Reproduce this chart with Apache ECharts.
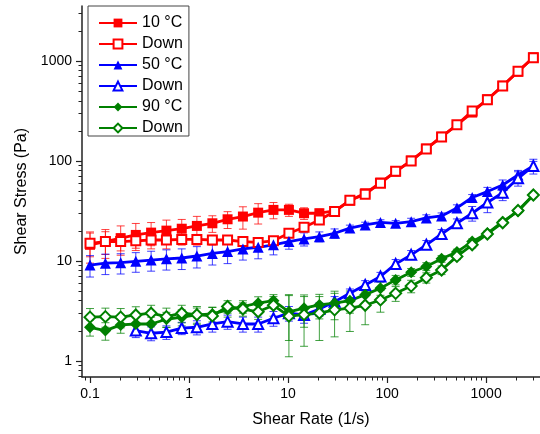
<!DOCTYPE html>
<html>
<head>
<meta charset="utf-8">
<script src="https://cdn.jsdelivr.net/npm/echarts@6/dist/echarts.min.js"></script>
<style>html,body{margin:0;padding:0;background:#fff}#c{width:540px;height:434px}</style>
</head>
<body>
<div id="c"></div>
<script>
// Shear rate (1/s)
const xRate = [0.1,0.143,0.204,0.29,0.414,0.591,0.844,1.2,1.72,2.45,3.5,4.99,7.12,10.2,14.5,20.7,29.5,42.1,60.1,85.7,122,175,249,355,507,723,1030,1470,2100,3000];
// Shear stress (Pa)
const red10 = [14.5,15.6,16.9,18.2,19.2,20.1,21.0,22.4,23.8,26.1,27.8,30.4,32.4,32.4,30.0,30.0,31.6,40.1,47.5,60.7,78.2,101,133,175,229,305,414,566,782,1088];
const red10Err = [5,5,5.5,5.5,5,5.5,5,5.5,4.5,5,7,7,6,4.5,4,3,2,2,2,2,2,3,4,5,6,8,10,12,15,20];
const red10Down = [15.0,15.6,15.6,15.9,16.2,16.2,16.4,16.4,16.2,16.2,15.6,15.3,15.9,18.9,21.7,25.7,31.2,40.5,46.5,60,78.8,100,132,174,230,316,410,562,790,1080];
const red10DownErr = [4,4,3,2.5,3,3,2,2,1.8,1.5,1.5,1.5,1.5,1.5,1.5,1.5,1.5,2,2,2,2,3,4,5,6,8,10,12,15,20];
const blue50 = [9.1,9.5,9.6,9.9,10.2,10.5,10.7,11.2,11.9,12.4,13.2,13.7,14.5,15.6,16.6,17.5,18.9,21.3,22.9,24.3,23.8,24.7,26.9,28.2,33.9,43.1,49.4,57.5,72.4,89];
const blue50Err = [2.2,2.2,2.2,2.2,2.3,2.4,2.5,2.7,2.8,3,3,3.2,3,2.5,2.5,2,2,1.5,1.5,1.5,1.5,2,2,2,2.5,3,5,7,8,10];
const blue50Down = [null,null,null,2.01,1.89,1.94,2.13,2.17,2.34,2.47,2.34,2.34,2.67,3.0,2.88,3.3,3.9,4.74,5.75,6.98,9.33,11.5,14.5,18.6,23.8,30,38.4,48.1,67,89];
const blue50DownErr = [null,null,null,0.3,0.3,0.3,0.3,0.35,0.4,0.4,0.4,0.4,0.45,0.5,0.5,0.5,0.5,0.5,0.6,0.7,1,1.2,1.5,2,2.5,5,8,8,11,15];
const green90 = [2.17,2.01,2.29,2.34,2.34,2.61,2.74,2.88,2.95,3.24,3.5,3.78,4.0,3.1,3.37,3.63,3.78,4.0,4.6,5.33,6.46,7.7,8.8,10.5,12.3,15.6,18.9,24.7,31.3,45.7];
const green90Err = [0.4,0.4,0.4,0.4,0.4,0.45,0.5,0.5,0.5,0.5,0.5,0.6,0.6,1.5,1.2,1.0,1.2,1.0,0.8,0.8,0.7,0.7,0.8,0.8,0.8,1,1,1.2,1.2,1.5];
const green90Down = [2.74,2.77,2.74,2.88,3.0,2.77,3.0,2.9,2.82,3.5,3.3,3.1,3.6,2.8,2.9,3.0,3.24,3.37,3.6,4.07,4.74,5.6,6.8,8.1,11.1,14.5,18.6,24.1,32,45.7];
const green90DownErr = [0.6,0.6,0.6,0.6,0.6,0.6,0.6,0.6,0.6,0.5,0.5,0.5,0.8,1.7,1.5,1.4,1.5,1.4,1.3,1.0,0.8,0.8,0.8,0.8,0.8,1,1,1.2,1.2,1.5];

const seriesNames = ['10 °C','Down#1','50 °C','Down#2','90 °C','Down#3'];
const xMajor = [0.1,1,10,100,1000];
const xMinor = [0.09,0.2,0.3,0.4,0.5,0.6,0.7,0.8,0.9,2,3,4,5,6,7,8,9,20,30,40,50,60,70,80,90,200,300,400,500,600,700,800,900,2000,3000];
const yMajor = [1,10,100,1000];
const yMinor = [0.7,0.8,0.9,2,3,4,5,6,7,8,9,20,30,40,50,60,70,80,90,200,300,400,500,600,700,800,900,2000,3000];

const RED = '#ff0000', BLUE = '#0000ff', GREEN = '#008000';

function lineSeries(name, ys, color, symbol, size) {
  const empty = symbol.indexOf('empty') === 0;
  return {
    name: name, type: 'line', xAxisIndex: 0, yAxisIndex: 0,
    data: xRate.map((x, i) => ys[i] == null ? null : [x, ys[i]]).filter(d => d),
    symbol: symbol, symbolSize: size, showAllSymbol: true,
    lineStyle: {color: color, width: 2.8},
    itemStyle: {color: color, borderColor: color, borderWidth: empty ? 1.5 : 0},
    z: 3, animation: false
  };
}
function errSeries(ys, errs, color) {
  const d = [];
  xRate.forEach((x, i) => { if (ys[i] != null && errs[i] != null) d.push([x, ys[i] - errs[i], ys[i] + errs[i]]); });
  return {
    type: 'custom', xAxisIndex: 0, yAxisIndex: 0, data: d, silent: true, z: 2, animation: false,
    encode: {x: 0, y: [1, 2]},
    renderItem: function (params, api) {
      const x = api.value(0);
      const lo = api.coord([x, api.value(1)]);
      const hi = api.coord([x, api.value(2)]);
      const w = 4;
      const st = {stroke: color, lineWidth: 1, opacity: 0.75};
      return {type: 'group', children: [
        {type: 'line', shape: {x1: lo[0], y1: lo[1], x2: hi[0], y2: hi[1]}, style: st},
        {type: 'line', shape: {x1: hi[0] - w, y1: hi[1], x2: hi[0] + w, y2: hi[1]}, style: st},
        {type: 'line', shape: {x1: lo[0] - w, y1: lo[1], x2: lo[0] + w, y2: lo[1]}, style: st}
      ]};
    }
  };
}

const FONT = 'Liberation Sans, Arial, sans-serif';
const axisCommonX = {type: 'log', logBase: 10, min: 0.083, max: 3500, position: 'bottom', splitLine: {show: false}};
const axisCommonY = {type: 'log', logBase: 10, min: 0.69, max: 3550, position: 'left', splitLine: {show: false}};

const chart = echarts.init(document.getElementById('c'), null, {renderer: 'canvas'});
chart.setOption({
  animation: false,
  backgroundColor: '#fff',
  textStyle: {fontFamily: FONT},
  grid: {left: 82, right: 0, top: 6, bottom: 57, containLabel: false},
  legend: {
    data: seriesNames, orient: 'vertical', left: 88, top: 6,
    itemWidth: 38, itemHeight: 11, itemGap: 5,
    padding: [9, 6, 0, 10],
    borderColor: '#444', borderWidth: 1,
    textStyle: {fontSize: 16, color: '#000', fontFamily: FONT, lineHeight: 16},
    formatter: n => n.replace(/#\d$/, '')
  },
  xAxis: [
    Object.assign({}, axisCommonX, {
      name: 'Shear Rate (1/s)', nameLocation: 'middle', nameGap: 35,
      nameTextStyle: {fontSize: 16, color: '#000', fontFamily: FONT},
      axisLine: {show: true, onZero: false, lineStyle: {color: '#222', width: 1.5}},
      axisTick: {show: true, length: 6, customValues: xMajor, lineStyle: {color: '#222', width: 1.2}},
      axisLabel: {show: true, customValues: xMajor, fontSize: 14, color: '#000', margin: 10, fontFamily: FONT,
        formatter: v => String(v)}
    }),
    Object.assign({}, axisCommonX, {
      axisLine: {show: false, onZero: false},
      axisTick: {show: true, length: 3.5, customValues: xMinor, lineStyle: {color: '#222', width: 1}},
      axisLabel: {show: false}
    })
  ],
  yAxis: [
    Object.assign({}, axisCommonY, {
      name: 'Shear Stress (Pa)', nameLocation: 'middle', nameGap: 52,
      nameTextStyle: {fontSize: 16, color: '#000', fontFamily: FONT},
      axisLine: {show: true, onZero: false, lineStyle: {color: '#222', width: 1.5}},
      axisTick: {show: true, length: 6, customValues: yMajor, lineStyle: {color: '#222', width: 1.2}},
      axisLabel: {show: true, customValues: yMajor, fontSize: 14, color: '#000', margin: 10, fontFamily: FONT,
        formatter: v => String(v)}
    }),
    Object.assign({}, axisCommonY, {
      axisLine: {show: false, onZero: false},
      axisTick: {show: true, length: 3.5, customValues: yMinor, lineStyle: {color: '#222', width: 1}},
      axisLabel: {show: false}
    })
  ],
  series: [
    errSeries(red10, red10Err, RED),
    errSeries(red10Down, red10DownErr, RED),
    errSeries(blue50, blue50Err, BLUE),
    errSeries(blue50Down, blue50DownErr, BLUE),
    errSeries(green90, green90Err, GREEN),
    errSeries(green90Down, green90DownErr, GREEN),
    lineSeries(seriesNames[0], red10, RED, 'rect', 10),
    lineSeries(seriesNames[1], red10Down, RED, 'emptyRect', 9),
    lineSeries(seriesNames[2], blue50, BLUE, 'triangle', 11),
    lineSeries(seriesNames[3], blue50Down, BLUE, 'emptyTriangle', 10),
    lineSeries(seriesNames[4], green90, GREEN, 'diamond', 12),
    lineSeries(seriesNames[5], green90Down, GREEN, 'emptyDiamond', 11)
  ]
});
</script>
</body>
</html>
